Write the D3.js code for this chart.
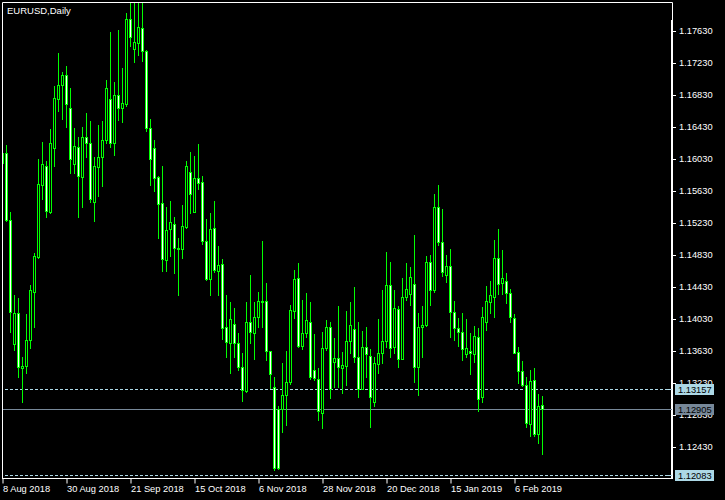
<!DOCTYPE html>
<html><head><meta charset="utf-8">
<script src="https://cdn.jsdelivr.net/npm/d3@7"></script>
<style>html,body{margin:0;padding:0;background:#000;}svg{display:block;}</style>
</head><body>
<svg id="c" width="725" height="500"></svg>
<script>
const opens = [1.15980,1.16105,1.15268,1.13718,1.14105,1.13418,1.13443,1.13768,1.14368,1.14805,
1.15705,1.15943,1.15368,1.16168,1.16780,1.16955,1.17080,1.16668,1.15968,1.16180,
1.15805,1.16305,1.16230,1.15493,1.15930,1.16055,1.16268,1.16780,1.16230,1.16830,
1.16668,1.16718,1.17780,1.17405,1.17480,1.17668,1.17380,1.16418,1.16168,1.15805,
1.15480,1.14768,1.15155,1.15218,1.14918,1.14905,1.15180,1.15868,1.15368,1.15793,
1.15743,1.15005,1.14530,1.15168,1.14630,1.14718,1.13930,1.13730,1.13968,1.13730,
1.13430,1.13130,1.13993,1.13855,1.14055,1.14243,1.14255,1.13630,1.13180,1.12905,
1.12905,1.13080,1.13243,1.14130,1.14543,1.13693,1.13855,1.13993,1.13393,1.13280,
1.12855,1.13668,1.13930,1.13493,1.13543,1.13418,1.13443,1.13755,1.13905,1.13555,
1.13155,1.13680,1.13568,1.12993,1.13468,1.13605,1.13755,1.14455,1.13680,1.14155,
1.13530,1.14305,1.14343,1.14468,1.13430,1.13930,1.13955,1.14743,1.14393,1.15430,
1.14993,1.14580,1.14693,1.14118,1.13918,1.13868,1.13593,1.13630,1.13593,1.13805,
1.13055,1.13993,1.14243,1.14305,1.14793,1.14480,1.14505,1.14355,1.14043,1.13618,
1.13380,1.13205,1.12718,1.13268,1.12593,1.12955];
const highs = [1.16168,1.16205,1.15368,1.14330,1.14293,1.13555,1.14093,1.14455,1.14855,1.16030,
1.16243,1.16005,1.16405,1.16943,1.17355,1.17118,1.17193,1.16918,1.16418,1.16305,
1.16430,1.16605,1.16505,1.16055,1.16455,1.16505,1.17018,1.17618,1.16993,1.17643,
1.17168,1.17855,1.18100,1.18050,1.18080,1.18120,1.17393,1.16530,1.16268,1.15818,
1.15943,1.15430,1.15505,1.15305,1.15043,1.15455,1.16005,1.16118,1.16068,1.16218,
1.15818,1.15280,1.15355,1.15505,1.14943,1.14780,1.14330,1.14243,1.14168,1.13855,
1.13605,1.14243,1.14580,1.14243,1.14368,1.15005,1.14480,1.13630,1.13305,1.12943,
1.13480,1.13630,1.14205,1.14643,1.14730,1.14268,1.14355,1.14243,1.13843,1.13418,
1.13868,1.14018,1.13993,1.13793,1.14193,1.13618,1.14130,1.14243,1.14430,1.13993,
1.13880,1.13930,1.13655,1.13555,1.14030,1.14393,1.14868,1.14743,1.14393,1.14193,
1.14543,1.14730,1.14680,1.15080,1.14105,1.14193,1.14818,1.14830,1.15593,1.15705,
1.15405,1.14830,1.14905,1.14255,1.14043,1.14105,1.14030,1.13855,1.13943,1.13918,
1.14180,1.14443,1.14505,1.15018,1.15155,1.14893,1.14605,1.14405,1.14093,1.13680,
1.13505,1.13305,1.13393,1.13418,1.13093,1.13068];
const lows = [1.15943,1.15255,1.13868,1.13643,1.13305,1.12993,1.13355,1.13668,1.13930,1.14793,
1.15530,1.15305,1.15355,1.15943,1.16630,1.16530,1.16430,1.15855,1.15855,1.15305,
1.15430,1.16055,1.15493,1.15255,1.15568,1.15693,1.16230,1.16180,1.16080,1.16518,
1.16493,1.16693,1.17443,1.17243,1.17330,1.17255,1.16380,1.15705,1.15630,1.15043,
1.14630,1.14630,1.14818,1.14605,1.14330,1.14793,1.15168,1.15355,1.15368,1.15655,
1.14968,1.14518,1.14330,1.14618,1.14330,1.13780,1.13555,1.13355,1.13555,1.13393,
1.13005,1.13118,1.13730,1.13530,1.13930,1.13930,1.13518,1.13168,1.12143,1.12155,
1.12618,1.12705,1.13218,1.14043,1.13680,1.13655,1.13805,1.13280,1.13268,1.12768,
1.12668,1.13643,1.13043,1.13180,1.13180,1.13105,1.13205,1.13605,1.13493,1.13055,
1.13155,1.13305,1.12680,1.12943,1.13355,1.13480,1.13680,1.13555,1.13605,1.13430,
1.13530,1.14268,1.14205,1.13243,1.13080,1.13555,1.13943,1.14205,1.14368,1.14955,
1.14568,1.14493,1.13805,1.13768,1.13693,1.13518,1.13555,1.13343,1.13493,1.12880,
1.12993,1.13893,1.14105,1.14055,1.14343,1.14343,1.14230,1.13993,1.13605,1.13230,
1.13193,1.12680,1.12568,1.12568,1.12480,1.12343];
const closes = [1.16105,1.15268,1.14118,1.14105,1.13430,1.13443,1.13768,1.14393,1.14818,1.15718,
1.15968,1.15380,1.16230,1.16793,1.16955,1.17080,1.16718,1.16030,1.16193,1.15818,
1.16305,1.16230,1.15530,1.15943,1.16055,1.16268,1.16918,1.16230,1.16830,1.16668,
1.16730,1.17780,1.17555,1.17493,1.17680,1.17380,1.16418,1.16030,1.15793,1.15468,
1.14780,1.15143,1.15243,1.14918,1.14905,1.15193,1.15943,1.15593,1.15793,1.15730,
1.15005,1.14530,1.15155,1.14643,1.14705,1.13918,1.13743,1.14030,1.13730,1.13430,
1.13143,1.13993,1.13868,1.14055,1.14255,1.14255,1.13630,1.13343,1.12168,1.12168,
1.13080,1.13243,1.14143,1.14530,1.13693,1.13855,1.14018,1.13305,1.13293,1.12880,
1.13668,1.13930,1.13155,1.13543,1.13430,1.13455,1.13755,1.13955,1.13555,1.13155,
1.13680,1.13593,1.13055,1.13480,1.13605,1.13755,1.14455,1.13668,1.14168,1.13530,
1.14305,1.14405,1.14555,1.13430,1.13930,1.13955,1.14743,1.14393,1.15430,1.14993,
1.14618,1.14693,1.14118,1.13918,1.13868,1.13655,1.13668,1.13605,1.13818,1.13030,
1.14055,1.14255,1.14330,1.14793,1.14468,1.14543,1.14355,1.14055,1.13605,1.13380,
1.13205,1.12730,1.13255,1.12593,1.12943,1.12905];
const dateLabels = ["8 Aug 2018","30 Aug 2018","21 Sep 2018","15 Oct 2018","6 Nov 2018","28 Nov 2018","20 Dec 2018","15 Jan 2019","6 Feb 2019"];
const dateIndex = [0,16,32,48,64,80,96,112,128];
const priceTicks = [1.17630,1.17230,1.16830,1.16430,1.16030,1.15630,1.15230,1.14830,1.14430,1.14030,1.13630,1.13230,1.12830,1.12430];
const askLine = 1.13157, bidLine = 1.12905, lowLine = 1.12083;
const chartTitle = "EURUSD,Daily";

const svg = d3.select("#c");
const W = 725, H = 500;
const pLeft = 2, pRight = 672, pTop = 2.5, pBottom = 478.5;
svg.append("rect").attr("width",W).attr("height",H).attr("fill","#000");

const x = d3.scaleLinear().domain([0, 135]).range([2.5, 542.5]);
const y = d3.scaleLinear().domain([1.1763, 1.1243]).range([31, 447]);

svg.append("defs").append("clipPath").attr("id","pc")
  .append("rect").attr("x",pLeft+0.5).attr("y",pTop+0.5).attr("width",pRight-pLeft-1).attr("height",pBottom-pTop-1);
const plot = svg.append("g").attr("clip-path","url(#pc)");

plot.append("line").attr("x1",pLeft).attr("x2",pRight).attr("y1",Math.round(y(bidLine))+0.5).attr("y2",Math.round(y(bidLine))+0.5)
  .attr("stroke","#778899").attr("stroke-width",1);
[askLine, lowLine].forEach(v=>{
  plot.append("line").attr("x1",pLeft+3).attr("x2",pRight).attr("y1",Math.round(y(v))+0.5).attr("y2",Math.round(y(v))+0.5)
    .attr("stroke","#add8e6").attr("stroke-width",1).attr("stroke-dasharray","3,2");
});

const data = opens.map((o,i)=>({i,o,h:highs[i],l:lows[i],c:closes[i]}));
const g = plot.selectAll("g.c").data(data).join("g").attr("class","c");
g.append("line").attr("x1",d=>x(d.i)).attr("x2",d=>x(d.i))
  .attr("y1",d=>Math.round(y(d.h))).attr("y2",d=>Math.round(y(d.l))+1)
  .attr("stroke","#00ff00").attr("stroke-width",1);
g.append("rect").attr("x",d=>x(d.i)-1)
  .attr("y",d=>Math.round(y(Math.max(d.o,d.c)))+0.5)
  .attr("width",2)
  .attr("height",d=>Math.max(0,Math.round(y(Math.min(d.o,d.c)))-Math.round(y(Math.max(d.o,d.c)))))
  .attr("fill",d=>d.c<d.o?"#ffffff":"#000000")
  .attr("stroke","#00ff00").attr("stroke-width",1);

svg.append("path").attr("d",`M${pLeft+0.5},${pBottom} V${pTop} H${pRight+0.5} V20`).attr("fill","none").attr("stroke","#fff").attr("stroke-width",1);
svg.append("line").attr("x1",pRight).attr("x2",pRight).attr("y1",20).attr("y2",pBottom+0.5).attr("stroke","#fff").attr("stroke-width",2);
svg.append("line").attr("x1",pLeft).attr("x2",pRight).attr("y1",pBottom).attr("y2",pBottom).attr("stroke","#fff").attr("stroke-width",1);

const font = "'Liberation Sans', Arial, sans-serif";

const yAxis = d3.axisRight(y).tickValues(priceTicks).tickSize(3).tickPadding(3).tickFormat(d3.format(".5f"));
const ya = svg.append("g").attr("transform",`translate(${pRight+1},0)`).call(yAxis);
ya.select(".domain").remove();
ya.selectAll("line").attr("stroke","#fff");
ya.selectAll("text").attr("fill","#fff").style("font-family",font).style("font-size","9.3px");

const xAxis = d3.axisBottom(x).tickValues(dateIndex).tickSize(5).tickFormat((d,i)=>dateLabels[i]);
const xa = svg.append("g").attr("transform",`translate(0,${pBottom})`).call(xAxis);
xa.select(".domain").remove();
xa.selectAll("line").attr("stroke","#fff");
xa.selectAll("text").attr("fill","#fff").attr("text-anchor","start").attr("x",0).attr("y",13.5).attr("dy",0)
  .style("font-family",font).style("font-size","9.3px");

[[askLine,"#add8e6"],[bidLine,"#778899"],[lowLine,"#add8e6"]].forEach(([v,col])=>{
  const yy = Math.round(y(v));
  svg.append("line").attr("x1",668).attr("x2",672).attr("y1",yy+0.5).attr("y2",yy+0.5).attr("stroke",col);
  svg.append("rect").attr("x",675).attr("y",yy-5).attr("width",39).attr("height",11).attr("fill",col);
  svg.append("text").attr("x",678).attr("y",yy+4).text(d3.format(".5f")(v))
    .attr("fill","#000").style("font-family",font).style("font-size","9.3px");
});

svg.append("text").attr("x",7).attr("y",13.5).text(chartTitle).attr("fill","#fff")
  .style("font-family",font).style("font-size","9.5px");
</script>
</body></html>
